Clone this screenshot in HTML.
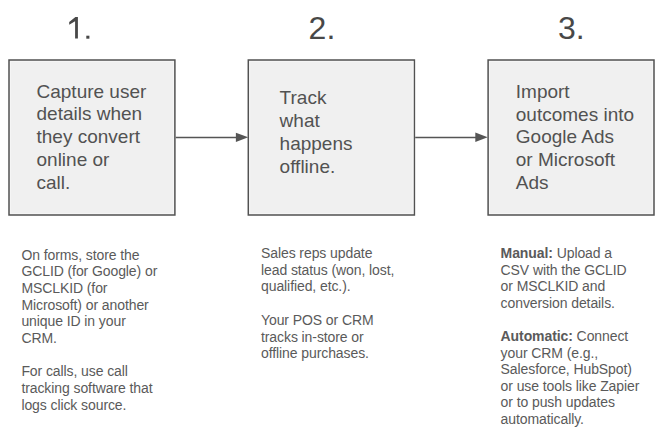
<!DOCTYPE html>
<html>
<head>
<meta charset="utf-8">
<style>
html,body{margin:0;padding:0;background:#fff;}
body{width:664px;height:440px;position:relative;overflow:hidden;font-family:"Liberation Sans",sans-serif;color:#444;}
.num{position:absolute;font-size:32px;line-height:40px;color:#484848;white-space:nowrap;}
.bt{position:absolute;font-size:19px;line-height:22.75px;color:#525252;white-space:nowrap;}
.lt{position:absolute;font-size:14px;line-height:16.6px;color:#5a5a5a;letter-spacing:-0.09px;white-space:nowrap;}
svg{position:absolute;left:0;top:0;}
b{font-weight:bold;}
</style>
</head>
<body>
<svg width="664" height="440">
  <g fill="#f0f0f0" stroke="#525252" stroke-width="1.5"><rect x="9.0" y="60.0" width="165.9" height="155.0"/><rect x="248.3" y="60.0" width="166.1" height="155.0"/><rect x="488.1" y="60.0" width="165.9" height="155.0"/></g><g fill="none" stroke="#f5f5f5" stroke-width="1"><rect x="10.5" y="61.5" width="162.9" height="152.0"/><rect x="249.8" y="61.5" width="163.1" height="152.0"/><rect x="489.6" y="61.5" width="162.9" height="152.0"/></g>
  <g stroke="#555" stroke-width="1.5">
    <line x1="175.7" y1="137.4" x2="238" y2="137.4"/>
    <line x1="415.2" y1="137.4" x2="477" y2="137.4"/>
  </g>
  <g fill="#555">
    <polygon points="235.9,132.7 248.2,137.35 235.9,141.9"/>
    <polygon points="475.3,132.6 487.7,137.35 475.3,141.9"/>
  </g>
</svg>
<svg width="664" height="440"><path fill="#484848" d="M69.2 21.9 L75.4 17.1 L77.9 17.1 L77.9 38.6 L75.1 38.6 L75.1 21.2 L69.2 24.7 Z"/><rect fill="#484848" x="86.3" y="35.7" width="3.1" height="3.0"/></svg>
<div class="num" style="left:308.6px;top:8px">2.</div>
<div class="num" style="left:558px;top:8px">3.</div>

<div class="bt" style="left:36.5px;top:80.5px">Capture user<br>details when<br>they convert<br>online or<br>call.</div>
<div class="bt" style="left:279.6px;top:87.3px">Track<br>what<br>happens<br>offline.</div>
<div class="bt" style="left:515.8px;top:80.8px">Import<br>outcomes into<br>Google Ads<br>or Microsoft<br>Ads</div>

<div class="lt" style="left:21.4px;top:246.5px;line-height:16.67px">On forms, store the<br>GCLID (for Google) or<br>MSCLKID (for<br>Microsoft) or another<br>unique ID in your<br>CRM.<br><br>For calls, use call<br>tracking software that<br>logs click source.</div>
<div class="lt" style="left:261px;top:245px;line-height:16.7px">Sales reps update<br>lead status (won, lost,<br>qualified, etc.).<br><br>Your POS or CRM<br>tracks in-store or<br>offline purchases.</div>
<div class="lt" style="left:500.6px;top:245px"><b>Manual:</b> Upload a<br>CSV with the GCLID<br>or MSCLKID and<br>conversion details.<br><br><b>Automatic:</b> Connect<br>your CRM (e.g.,<br>Salesforce, HubSpot)<br>or use tools like Zapier<br>or to push updates<br>automatically.</div>
</body>
</html>
